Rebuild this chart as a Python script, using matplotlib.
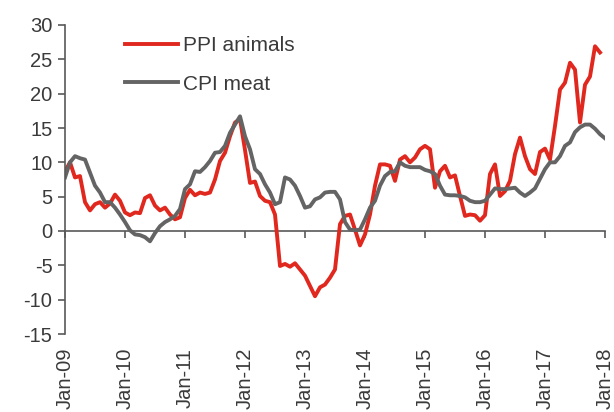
import matplotlib
matplotlib.use("Agg")
import matplotlib.pyplot as plt
import numpy as np


OUT_PNG = "out.png"

# monthly % y/y, Jan-09 onwards
PPI_ANIMALS = [
    8.7, 10.0, 7.8, 8.0, 4.2, 3.0, 3.9, 4.2, 3.4, 4.0, 5.3, 4.4,          # 2009
    2.7, 2.3, 2.7, 2.6, 4.8, 5.2, 3.7, 3.0, 3.4, 2.4, 1.7, 2.0,           # 2010
    4.8, 6.0, 5.2, 5.6, 5.4, 5.6, 7.5, 10.2, 11.4, 13.8, 15.8, 16.3,     # 2011
    11.8, 7.0, 7.2, 5.1, 4.4, 4.2, 2.4, -5.1, -4.8, -5.2, -4.7, -5.6,    # 2012
    -6.5, -8.0, -9.5, -8.2, -7.8, -6.8, -5.6, 1.0, 2.2, 2.4, 0.2, -2.1,  # 2013
    -0.5, 2.4, 6.6, 9.7, 9.7, 9.5, 7.3, 10.4, 10.9, 10.0, 10.7, 11.9,    # 2014
    12.4, 11.9, 6.3, 8.7, 9.5, 7.8, 8.1, 5.1, 2.2, 2.4, 2.3, 1.5,        # 2015
    2.3, 8.3, 9.7, 5.1, 5.8, 7.3, 11.2, 13.6, 10.9, 9.0, 8.3, 11.5,      # 2016
    12.0, 10.4, 15.3, 20.6, 21.6, 24.5, 23.5, 15.8, 21.3, 22.5, 26.9, 26.0,  # 2017
]

CPI_MEAT = [
    7.8, 10.0, 10.9, 10.6, 10.4, 8.5, 6.6, 5.6, 4.2, 4.2, 3.4, 2.4,
    1.3, 0.1, -0.5, -0.6, -0.9, -1.5, -0.3, 0.7, 1.3, 1.7, 2.2, 3.2,
    6.1, 6.8, 8.7, 8.6, 9.3, 10.2, 11.4, 11.5, 12.4, 14.3, 15.5, 16.7,
    13.8, 11.9, 9.0, 8.3, 6.8, 5.6, 3.9, 4.2, 7.8, 7.5, 6.6, 5.1,
    3.4, 3.6, 4.6, 4.9, 5.6, 5.7, 5.7, 4.6, 1.3, 0.2, 0.1, 0.2,
    1.7, 3.4, 4.4, 6.6, 8.0, 8.6, 8.7, 10.0, 9.5, 9.3, 9.3, 9.3,
    8.9, 8.7, 8.3, 6.6, 5.3, 5.2, 5.2, 5.1, 4.9, 4.4, 4.2, 4.2,
    4.4, 5.3, 6.2, 6.1, 6.1, 6.2, 6.3, 5.6, 5.1, 5.6, 6.2, 7.6,
    9.0, 10.0, 10.0, 10.9, 12.4, 12.9, 14.4, 15.1, 15.5, 15.5, 14.9, 14.1,
    13.5,
]

TICK_LABELS = ["Jan-09", "Jan-10", "Jan-11", "Jan-12", "Jan-13",
               "Jan-14", "Jan-15", "Jan-16", "Jan-17", "Jan-18"]


def main():
    plt.rcParams.update(
        {
            "font.family": ["Liberation Sans", "DejaVu Sans"],
            "font.size": 14.5,
            "axes.unicode_minus": False,
        }
    )
    axis_col = "#595959"
    text_col = "#3a3a3a"

    fig = plt.figure(figsize=(6.14, 4.12), dpi=100)
    ax = fig.add_axes([65 / 614, 1 - 334 / 412, 540 / 614, 309 / 412])

    ax.plot(np.arange(len(PPI_ANIMALS)), PPI_ANIMALS, color="#E0281E", lw=2.8,
            label="PPI animals", solid_joinstyle="round")
    ax.plot(np.arange(len(CPI_MEAT)), CPI_MEAT, color="#646464", lw=2.8,
            label="CPI meat", solid_joinstyle="round")

    ax.set_xlim(0, 108)
    ax.set_ylim(-15, 30)
    ax.set_yticks(np.arange(-15, 31, 5))
    xt = np.arange(0, 109, 12)
    ax.set_xticks(xt)
    ax.set_xticklabels(TICK_LABELS, rotation=90, va="top", ha="center")

    for s in ["top", "right", "bottom"]:
        ax.spines[s].set_visible(False)
    ax.spines["left"].set_color(axis_col)
    ax.spines["left"].set_linewidth(1.2)
    ax.tick_params(axis="y", direction="out", length=5, width=1.2,
                   color=axis_col, labelcolor=text_col, pad=4)
    ax.tick_params(axis="x", length=0, labelcolor=text_col, pad=10)

    # zero line carries the x ticks
    sec = ax.secondary_xaxis(15 / 45)
    sec.set_xticks(xt)
    sec.set_xticklabels([])
    sec.tick_params(direction="out", length=5, width=1.2, color=axis_col)
    for s in sec.spines.values():
        s.set_color(axis_col)
        s.set_linewidth(1.2)

    ax.legend(loc="upper left", bbox_to_anchor=(0.111, 0.965), frameon=False,
              borderpad=0, borderaxespad=0, handlelength=2.55, handletextpad=0.25,
              labelspacing=0.95, fontsize=15, labelcolor=text_col)

    fig.savefig(OUT_PNG, dpi=100)


if __name__ == "__main__":
    main()
